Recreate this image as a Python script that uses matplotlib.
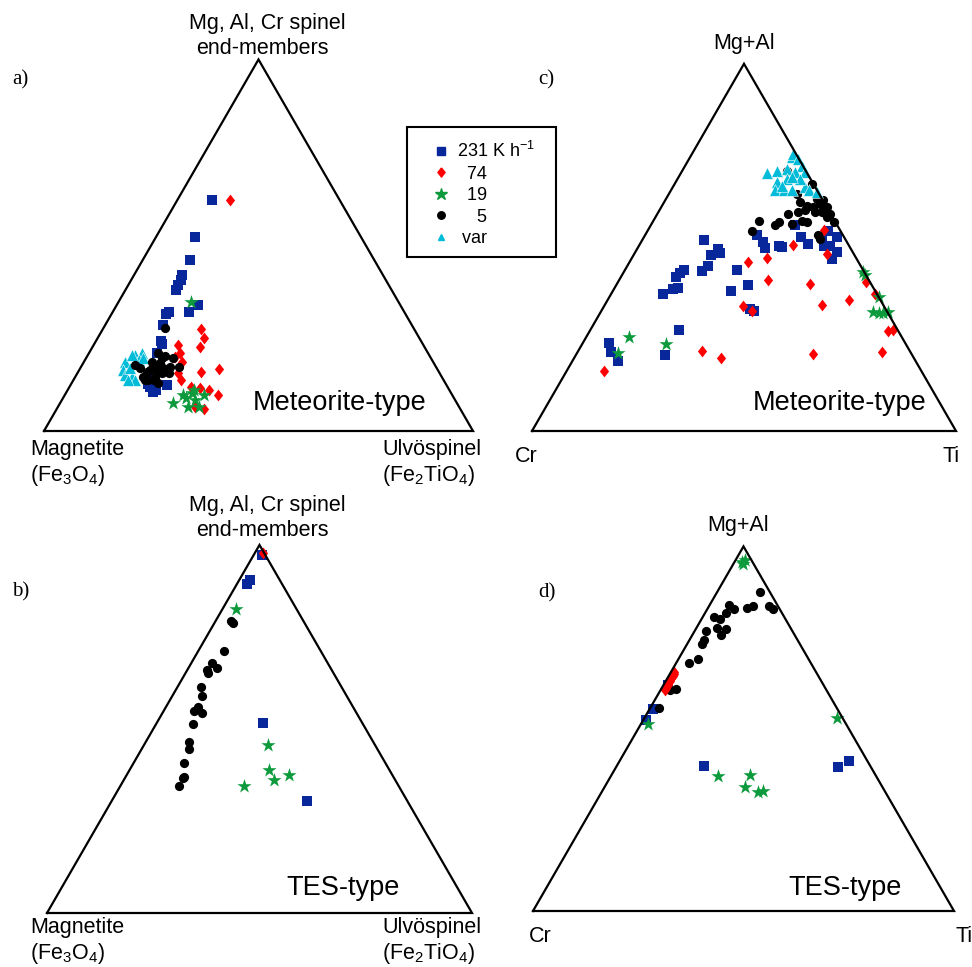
import numpy as np
import matplotlib.pyplot as plt
from matplotlib.lines import Line2D
from matplotlib.patches import Rectangle

plt.rcParams['font.family'] = ['Liberation Sans', 'DejaVu Sans']
plt.rcParams['mathtext.fontset'] = 'custom'
plt.rcParams['mathtext.rm'] = 'Liberation Sans'

W, H = 972, 967
S3 = np.sqrt(3) / 2

# a) meteorite-type, Fe-Ti diagram: % Mg,Al,Cr spinel end-members (apex) / % ulvospinel (right)
a231_spl = [62.1, 52.2, 46.1, 42.0, 40.7, 39.4, 38.0, 34.0, 31.9, 31.5, 31.9, 28.4, 24.3, 23.5,
            21.0, 12.4, 11.9, 10.6, 13.7, 12.7, 11.1]
a231_usp = [8.2, 9.2, 10.9, 11.1, 11.5, 11.6, 11.8, 18.8, 13.3, 12.6, 17.9, 13.6, 15.1, 15.7,
            15.8, 22.5, 18.8, 20.2, 18.3, 17.9, 20.6]
a74_spl = [62.3, 27.5, 25.0, 22.7, 23.2, 20.9, 20.0, 18.7, 15.6, 13.7, 16.0, 16.6, 11.9, 11.5,
           11.1, 9.7, 5.9, 6.5]
a74_usp = [12.2, 22.8, 24.8, 25.0, 19.6, 21.3, 20.5, 22.8, 23.5, 25.1, 28.6, 32.6, 28.3, 30.6,
           33.0, 35.6, 34.4, 32.0]
a19_spl = [34.7, 7.5, 8.8, 10.2, 8.4, 6.5, 6.5, 9.7, 9.7, 11.1]
a19_usp = [16.9, 26.4, 28.7, 29.3, 31.0, 30.4, 32.8, 32.5, 27.6, 29.3]
a5_spl = [27.8, 20.9, 20.2, 19.6, 17.3, 17.3, 18.2, 17.8, 16.4, 16.0, 17.8, 14.6, 13.7, 14.6,
          15.6, 15.7, 16.4, 18.7, 16.9, 13.7, 13.7, 12.9, 19.7, 17.0]
a5_usp = [14.3, 16.2, 18.1, 20.3, 22.9, 20.7, 17.9, 16.6, 16.5, 15.9, 12.3, 15.8, 17.5, 18.6,
          19.6, 21.2, 18.1, 15.8, 19.4, 18.7, 16.7, 20.2, 17.7, 13.9]
avar_spl = [18.7, 16.4, 15.1, 14.6, 20.5, 20.9, 19.1, 19.6, 16.9, 13.7, 13.7, 20.5]
avar_usp = [9.6, 10.3, 11.4, 13.1, 11.0, 12.4, 12.5, 13.3, 11.6, 14.4, 12.8, 10.3]

# b) TES-type, same diagram
b231_spl = [97.3, 90.5, 89.4, 51.5, 30.5]
b231_usp = [1.9, 2.6, 2.3, 25.0, 46.0]
b74_spl = [97.9]
b74_usp = [1.8]
b19_spl = [82.6, 45.7, 38.9, 36.0, 37.5, 34.6]
b19_usp = [3.2, 29.1, 32.8, 35.3, 38.3, 29.1]
b5_spl = [79.2, 78.7, 71.3, 67.9, 66.7, 66.0, 65.1, 61.3, 59.0, 56.1, 55.0, 54.3, 51.4, 46.4,
          44.6, 40.8, 37.0, 36.6, 34.5]
b5_usp = [3.7, 4.3, 5.9, 4.8, 6.6, 4.6, 5.4, 5.6, 7.0, 7.4, 7.2, 9.3, 8.7, 10.3,
          11.2, 11.9, 13.7, 13.8, 13.9]

# c) meteorite-type, trivalent/tetravalent cations: % Mg+Al (apex) / % Ti (right)
c231_mgal = [51.9, 49.6, 48.5, 47.8, 44.8, 43.6, 43.8, 38.1, 43.8, 42.9, 41.9, 38.9, 38.8, 37.2,
             27.4, 24.1, 21.5, 19.1, 20.7, 39.7, 33.3, 32.7, 53.3, 51.4, 49.9, 50.5, 50.1, 56.0,
             52.8, 51.0, 52.8, 50.3, 50.5, 52.8, 54.6, 48.7, 46.9]
c231_ti = [14.5, 19.1, 20.0, 18.2, 19.0, 18.2, 26.4, 27.9, 13.9, 13.5, 13.0, 14.9, 13.9, 12.2,
           21.0, 6.2, 7.9, 10.7, 21.1, 31.2, 34.8, 35.9, 26.4, 28.7, 30.0, 32.9, 33.9, 34.0,
           37.0, 39.7, 41.9, 43.6, 45.1, 45.5, 42.6, 47.7, 47.3]
c74_mgal = [16.3, 21.8, 19.9, 54.8, 50.7, 48.3, 47.2, 46.0, 41.2, 39.9, 34.4, 35.8, 34.0, 32.7,
            40.5, 37.2, 27.2, 27.4, 21.4, 21.1]
c74_ti = [8.9, 29.1, 34.7, 41.5, 36.2, 45.5, 31.8, 28.0, 35.0, 45.6, 51.1, 56.9, 32.7, 35.5,
          58.5, 62.3, 70.4, 71.5, 71.9, 55.7]
c19_mgal = [25.5, 21.3, 23.6, 42.4, 43.3, 36.5, 32.4, 32.0, 32.4, 32.0]
c19_ti = [10.2, 9.6, 19.7, 57.3, 56.5, 63.5, 64.3, 66.9, 67.8, 65.9]
c5_mgal = [57.1, 54.6, 56.0, 56.9, 59.0, 56.4, 59.6, 57.3, 56.9, 62.3, 61.4, 61.0, 61.9, 61.0,
           59.2, 56.9, 62.8, 63.2, 67.3, 64.6, 53.3, 52.4, 60.1, 58.2, 70.9, 59.6, 59.6]
c5_ti = [25.1, 24.5, 29.3, 29.7, 30.9, 33.1, 33.0, 35.0, 36.5, 32.1, 34.1, 35.8, 37.0, 39.0,
         40.7, 42.7, 37.3, 35.5, 32.4, 30.1, 40.9, 41.7, 34.4, 40.4, 24.7, 38.5, 36.9]
cvar_mgal = [70.3, 70.7, 74.5, 75.5, 74.1, 72.3, 71.4, 70.5, 70.5, 67.7, 68.7, 65.5, 65.5, 65.5,
             66.4, 65.5, 65.0, 68.7, 66.8, 69.1]
cvar_ti = [20.2, 22.4, 24.0, 23.9, 25.8, 27.5, 24.4, 26.8, 29.2, 23.9, 25.8, 24.6, 26.6, 28.5,
           31.2, 32.5, 34.6, 28.9, 25.5, 26.7]

# d) TES-type, same diagram
d231_mgal = [55.5, 52.3, 61.9, 39.8, 39.4, 41.1]
d231_ti = [0.7, 0.7, 1.0, 20.7, 52.7, 54.4]
d74_mgal = [60.6, 61.2, 61.9, 62.5, 63.1, 63.8, 64.4, 65.0, 65.6]
d74_ti = [1.0, 0.9, 1.1, 0.9, 1.0, 0.8, 1.0, 0.9, 0.8]
d19_mgal = [95.3, 95.7, 96.2, 51.4, 53.0, 37.1, 37.3, 34.1, 32.7, 32.9]
d19_ti = [2.3, 1.8, 2.3, 1.7, 45.6, 25.5, 32.9, 33.4, 37.0, 38.3]
d5_mgal = [55.8, 60.7, 60.8, 68.1, 69.2, 73.2, 74.2, 76.7, 80.6, 80.0, 77.6, 75.8, 77.3, 81.6,
           83.8, 82.7, 83.1, 83.6, 87.5, 83.6, 82.7]
d5_ti = [2.1, 2.2, 3.6, 3.1, 4.5, 3.5, 3.5, 2.8, 2.7, 4.4, 5.0, 6.7, 7.2, 5.0,
         4.7, 6.3, 9.3, 10.5, 10.2, 14.3, 15.6]

rate_labels = ['231 K h$^\\mathregular{-1}$', '  74', '  19', '    5', ' var']

THIN_D = [(0, 1), (0.78, 0), (0, -1), (-0.78, 0), (0, 1)]
STYLE = {
    '231': dict(marker='s', c='#08279B', s=62, linewidths=0),
    '74': dict(marker=THIN_D, c='#FF0000', s=72, linewidths=0),
    '19': dict(marker='*', c='#0C9A3C', s=115, linewidths=0),
    '5': dict(marker='o', c='black', s=44, linewidths=0),
    'var': dict(marker='^', c='#00BCD8', s=72, edgecolors='white', linewidths=0.4),
}


def tern(top, right):
    top = np.asarray(top) / 100.0
    right = np.asarray(right) / 100.0
    return right + top / 2, top * S3


def fpos(x, y):
    return x / W, 1 - y / H


def panel(x0, y0, side):
    # x0, y0: lower-left corner of the triangle in pixels from the top-left
    ax = fig.add_axes([x0 / W, 1 - y0 / H, side / W, side * S3 / H])
    ax.set_xlim(0, 1)
    ax.set_ylim(0, S3)
    ax.axis('off')
    ax.plot([0, 1, 0.5, 0], [0, 0, S3, 0], color='black', lw=1.6,
            solid_joinstyle='miter', clip_on=False)
    return ax


def draw(ax, series):
    for key, top, right in series:
        x, y = tern(top, right)
        ax.scatter(x, y, clip_on=False, **STYLE[key])


fig = plt.figure(figsize=(W / 100, H / 100), dpi=100)

ax_a = panel(44, 431, 429)
draw(ax_a, [('231', a231_spl, a231_usp), ('74', a74_spl, a74_usp), ('19', a19_spl, a19_usp),
            ('var', avar_spl, avar_usp), ('5', a5_spl, a5_usp)])
ax_b = panel(47, 913, 425)
draw(ax_b, [('5', b5_spl, b5_usp), ('231', b231_spl, b231_usp), ('74', b74_spl, b74_usp),
            ('19', b19_spl, b19_usp)])
ax_c = panel(532, 431, 424)
draw(ax_c, [('231', c231_mgal, c231_ti), ('74', c74_mgal, c74_ti), ('5', c5_mgal, c5_ti),
            ('var', cvar_mgal, cvar_ti), ('19', c19_mgal, c19_ti)])
ax_d = panel(533, 911, 421)
draw(ax_d, [('231', d231_mgal, d231_ti), ('5', d5_mgal, d5_ti), ('74', d74_mgal, d74_ti),
            ('19', d19_mgal, d19_ti)])

# corner and panel labels
lab = dict(fontsize=15.5, va='center')
for yt, yb in ((0, 0), (482, -3)):
    fig.text(*fpos(267, 24 + yt), 'Mg, Al, Cr spinel', ha='center', **lab)
    fig.text(*fpos(262, 49 + yt), 'end-members', ha='center', **lab)
    fig.text(*fpos(30, 449 + yt + yb), 'Magnetite', ha='left', **lab)
    fig.text(*fpos(30, 475 + yt + yb), '(Fe$_\\mathregular{3}$O$_\\mathregular{4}$)',
             ha='left', **lab)
    fig.text(*fpos(382, 449 + yt + yb), 'Ulvöspinel', ha='left', **lab)
    fig.text(*fpos(382, 475 + yt + yb), '(Fe$_\\mathregular{2}$TiO$_\\mathregular{4}$)',
             ha='left', **lab)

fig.text(*fpos(744, 44), 'Mg+Al', ha='center', **lab)
fig.text(*fpos(738, 526), 'Mg+Al', ha='center', **lab)
fig.text(*fpos(515, 457), 'Cr', ha='left', **lab)
fig.text(*fpos(942, 457), 'Ti', ha='left', **lab)
fig.text(*fpos(529, 937), 'Cr', ha='left', **lab)
fig.text(*fpos(955, 937), 'Ti', ha='left', **lab)

big = dict(fontsize=19.5, va='center', ha='right')
fig.text(*fpos(426, 403), 'Meteorite-type', **big)
fig.text(*fpos(926, 403), 'Meteorite-type', **big)
fig.text(*fpos(400, 888), 'TES-type', **big)
fig.text(*fpos(902, 888), 'TES-type', **big)

let = dict(fontsize=15, va='center', ha='left', family='Liberation Serif')
fig.text(*fpos(12, 80), 'a)', **let)
fig.text(*fpos(12, 592), 'b)', **let)
fig.text(*fpos(538, 80), 'c)', **let)
fig.text(*fpos(538, 593), 'd)', **let)

# cooling-rate key
handles = [
    Line2D([], [], ls='none', marker='s', color=STYLE['231']['c'], markersize=5.4),
    Line2D([], [], ls='none', marker=THIN_D, color=STYLE['74']['c'], markersize=6.6),
    Line2D([], [], ls='none', marker='*', color=STYLE['19']['c'], markersize=8.8),
    Line2D([], [], ls='none', marker='o', color='black', markersize=5.4),
    Line2D([], [], ls='none', marker='^', color=STYLE['var']['c'], markersize=5),
]
fig.legend(handles, rate_labels, loc='upper left', bbox_to_anchor=fpos(434, 141),
           frameon=False, fontsize=13, handlelength=0.8, handletextpad=0.5,
           labelspacing=0.25, borderpad=0, borderaxespad=0)
fig.add_artist(Rectangle(fpos(407, 257), 149 / W, 130 / H, transform=fig.transFigure,
                         fill=False, edgecolor='black', lw=1.5))

fig.savefig('out.png', dpi=100)
